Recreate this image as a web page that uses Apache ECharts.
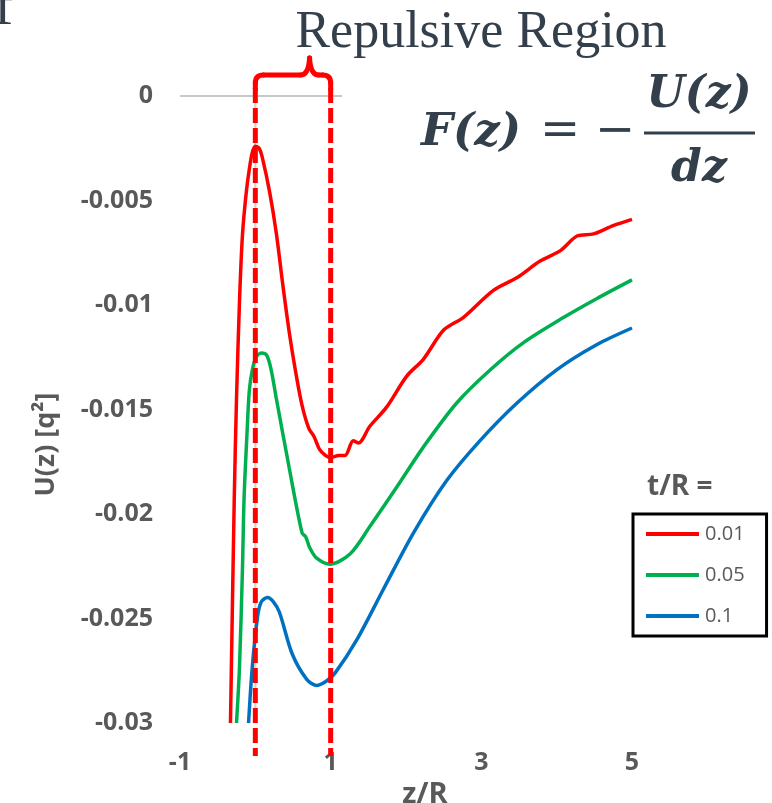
<!DOCTYPE html>
<html>
<head>
<meta charset="utf-8">
<script src="https://cdn.jsdelivr.net/npm/echarts@6/dist/echarts.min.js"></script>
<style>
  html, body {margin: 0; padding: 0; background: #fff;}
  #main {width: 772px; height: 803px;}
</style>
</head>
<body>
<div id="main"></div>
<script>
// t/R = 0.01
const redX = [-0.33, -0.28, -0.25, -0.21, -0.17, -0.12, -0.08, -0.04, 0.0, 0.05, 0.09, 0.19, 0.28, 0.36, 0.45, 0.54, 0.62, 0.71, 0.78, 0.85, 0.93, 0.99, 1.11, 1.19, 1.30, 1.37, 1.52, 1.74, 2.01, 2.23, 2.50, 2.76, 3.16, 3.47, 3.78, 4.05, 4.27, 4.49, 4.75, 5.0]
const redY = [-0.030, -0.0193, -0.0145, -0.0098, -0.0066, -0.0046, -0.0035, -0.0027, -0.0024, -0.0025, -0.0029, -0.0046, -0.0066, -0.0089, -0.0113, -0.0133, -0.0148, -0.0159, -0.0163, -0.0169, -0.0172, -0.0173, -0.0172, -0.0172, -0.0165, -0.0166, -0.0158, -0.0149, -0.0134, -0.0126, -0.0112, -0.0106, -0.0093, -0.0087, -0.0079, -0.0074, -0.0067, -0.0066, -0.0062, -0.0059]
// t/R = 0.05
const greenX = [-0.25, -0.21, -0.17, -0.15, -0.11, -0.08, -0.04, 0.01, 0.08, 0.15, 0.21, 0.28, 0.45, 0.62, 0.67, 0.72, 0.81, 0.99, 1.26, 1.52, 1.88, 2.23, 2.67, 3.12, 3.56, 4.09, 4.53, 5.0]
const greenY = [-0.030, -0.0273, -0.0225, -0.0193, -0.0161, -0.0141, -0.0131, -0.0125, -0.0123, -0.0124, -0.0131, -0.0145, -0.0178, -0.0209, -0.0211, -0.0216, -0.0221, -0.0224, -0.0219, -0.0206, -0.0187, -0.0168, -0.0147, -0.0131, -0.0118, -0.0106, -0.0097, -0.0088]
// t/R = 0.1
const blueX = [-0.09, -0.04, 0.03, 0.08, 0.16, 0.24, 0.32, 0.49, 0.68, 0.81, 0.94, 1.06, 1.35, 1.70, 2.10, 2.54, 2.98, 3.47, 4.0, 4.53, 5.0]
const blueY = [-0.030, -0.0273, -0.0249, -0.0242, -0.0240, -0.0242, -0.0247, -0.0267, -0.0279, -0.0282, -0.0280, -0.0276, -0.0260, -0.0236, -0.0209, -0.0184, -0.0165, -0.0147, -0.0131, -0.0119, -0.0111]

const seriesNames = ['0.01', '0.05', '0.1']
const seriesColors = ['#ff0000', '#00b050', '#0070c0']
const xTicks = {min: -1, max: 5, interval: 2}
const yTicks = {min: -0.03, max: 0, interval: 0.005}
const regionX = [0, 1]   // repulsive region bounds (z/R)

const pairs = (xs, ys) => xs.map((x, i) => [x, ys[i]])
const allData = [pairs(redX, redY), pairs(greenX, greenY), pairs(blueX, blueY)]

const gray = '#595959'
const ink = '#333f4a'

const chart = echarts.init(document.getElementById('main'))

let option = {
  animation: false,
  grid: {left: 180, right: 140, top: 96, bottom: 80, containLabel: false, outerBoundsMode: 'none'},
  legend: {
    data: seriesNames,
    orient: 'vertical',
    left: 633, top: 514,
    icon: 'rect',
    itemWidth: 53, itemHeight: 4, itemGap: 21,
    padding: [10, 22, 10, 13],
    borderColor: '#000', borderWidth: 3,
    textStyle: {fontFamily: 'Open Sans', fontSize: 20, color: gray, padding: [0, 0, 0, 1]}
  },
  xAxis: {
    type: 'value',
    min: xTicks.min, max: xTicks.max, interval: xTicks.interval,
    name: 'z/R', nameLocation: 'middle', nameGap: 49,
    nameTextStyle: {fontFamily: 'Open Sans', fontWeight: 'bold', fontSize: 29, color: gray, padding: [0, 0, 0, 38]},
    axisLine: {show: false}, axisTick: {show: false}, splitLine: {show: false},
    axisLabel: {fontFamily: 'Open Sans', fontWeight: 'bold', fontSize: 25, color: gray, margin: 27}
  },
  yAxis: {
    type: 'value',
    min: yTicks.min, max: yTicks.max, interval: yTicks.interval,
    name: 'U(z) [q²]', nameLocation: 'middle', nameGap: 120, nameRotate: 90,
    nameTextStyle: {fontFamily: 'Open Sans', fontWeight: 'bold', fontSize: 27, color: gray, padding: [0, 70, 0, 0]},
    axisLine: {show: false}, axisTick: {show: false}, splitLine: {show: false},
    axisLabel: {fontFamily: 'Open Sans', fontWeight: 'bold', fontSize: 25, color: gray, margin: 27}
  },
  series: seriesNames.map((n, i) => ({
    name: n,
    type: 'line',
    data: allData[i],
    smooth: 0.3,
    showSymbol: false,
    color: seriesColors[i],
    lineStyle: {width: 3.5, color: seriesColors[i]}
  }))
}
chart.setOption(option)

// annotations placed from the axes
const px = (x, y) => chart.convertToPixel({gridIndex: 0}, [x, y])
const x0 = px(regionX[0], 0)[0]
const x1 = px(regionX[1], 0)[0]
const yTop = px(0, yTicks.max)[1]
const yBot = px(0, yTicks.min)[1]
const zeroEnd = px(1.15, 0)
const zeroStart = px(xTicks.min, 0)
const pk = x0 + 0.72 * (x1 - x0)
const arm = yTop - 21

const red = {stroke: '#ff0000', lineWidth: 5, fill: null, lineCap: 'round'}
const seg = (a, b, c, d) => ({type: 'line', z: 50, shape: {x1: a, y1: b, x2: c, y2: d}, style: red})
const curve = (a, b, ca, cb, c, d) => ({type: 'bezierCurve', z: 50, shape: {x1: a, y1: b, cpx1: ca, cpy1: cb, x2: c, y2: d}, style: red})

// curly brace over the region
const brace = [
  seg(x0, yTop - 7, x0, arm + 8),
  curve(x0, arm + 8, x0, arm, x0 + 8, arm),
  seg(x0 + 8, arm, pk - 9, arm),
  curve(pk - 9, arm, pk - 1, arm, pk, yTop - 38),
  curve(pk, yTop - 38, pk + 1, arm, pk + 9, arm),
  seg(pk + 9, arm, x1 - 8, arm),
  curve(x1 - 8, arm, x1, arm, x1, arm + 8),
  seg(x1, arm + 8, x1, yTop - 7)
]

chart.setOption({
  title: {
    text: 't/R =', left: 642, top: 468,
    textStyle: {fontFamily: 'Open Sans', fontWeight: 'bold', fontSize: 28, color: gray}
  },
  graphic: [
    // zero line and axis line at z = 0
    {type: 'line', z: 1, shape: {x1: zeroStart[0], y1: yTop, x2: zeroEnd[0], y2: yTop}, style: {stroke: '#c8c8c8', lineWidth: 2}},
    {type: 'line', z: 1, shape: {x1: x0, y1: yTop, x2: x0, y2: yBot}, style: {stroke: '#d0d0d0', lineWidth: 2}},
    // repulsive region
    {type: 'line', z: 50, shape: {x1: x0, y1: yTop - 8, x2: x0, y2: yBot + 33}, style: {stroke: '#ff0000', lineWidth: 5, lineDash: [15, 5]}},
    {type: 'line', z: 50, shape: {x1: x1, y1: yTop - 8, x2: x1, y2: yBot + 33}, style: {stroke: '#ff0000', lineWidth: 5, lineDash: [15, 5]}},
    ...brace,
    {type: 'text', z: 50, style: {text: 'Repulsive Region', x: 481, y: 33, align: 'center', verticalAlign: 'middle', fontFamily: 'Liberation Serif', fontSize: 52, fill: ink}},
    // formula
    {type: 'text', z: 50, style: {text: 'F(z)', x: 421, y: 133, align: 'left', verticalAlign: 'middle', fontFamily: 'DejaVu Serif', fontStyle: 'italic', fontWeight: 'bold', fontSize: 45, fill: ink}},
    {type: 'text', z: 50, style: {text: '=', x: 560, y: 133, align: 'center', verticalAlign: 'middle', fontFamily: 'DejaVu Serif', fontSize: 48, fill: ink}},
    {type: 'text', z: 50, style: {text: '−', x: 615, y: 133, align: 'center', verticalAlign: 'middle', fontFamily: 'DejaVu Serif', fontSize: 48, fill: ink}},
    {type: 'text', z: 50, style: {text: 'U(z)', x: 699, y: 96, align: 'center', verticalAlign: 'middle', fontFamily: 'DejaVu Serif', fontStyle: 'italic', fontWeight: 'bold', fontSize: 44, fill: ink}},
    {type: 'line', z: 50, shape: {x1: 644, y1: 133, x2: 755, y2: 133}, style: {stroke: ink, lineWidth: 3}},
    {type: 'text', z: 50, style: {text: 'dz', x: 699, y: 170, align: 'center', verticalAlign: 'middle', fontFamily: 'DejaVu Serif', fontStyle: 'italic', fontWeight: 'bold', fontSize: 44, fill: ink}},
    // panel letter cut at the edge
    {type: 'text', z: 50, style: {text: 'f', x: -6, y: 9, align: 'left', verticalAlign: 'middle', fontFamily: 'Liberation Serif', fontSize: 58, fill: ink}}
  ]
})
</script>
</body>
</html>
